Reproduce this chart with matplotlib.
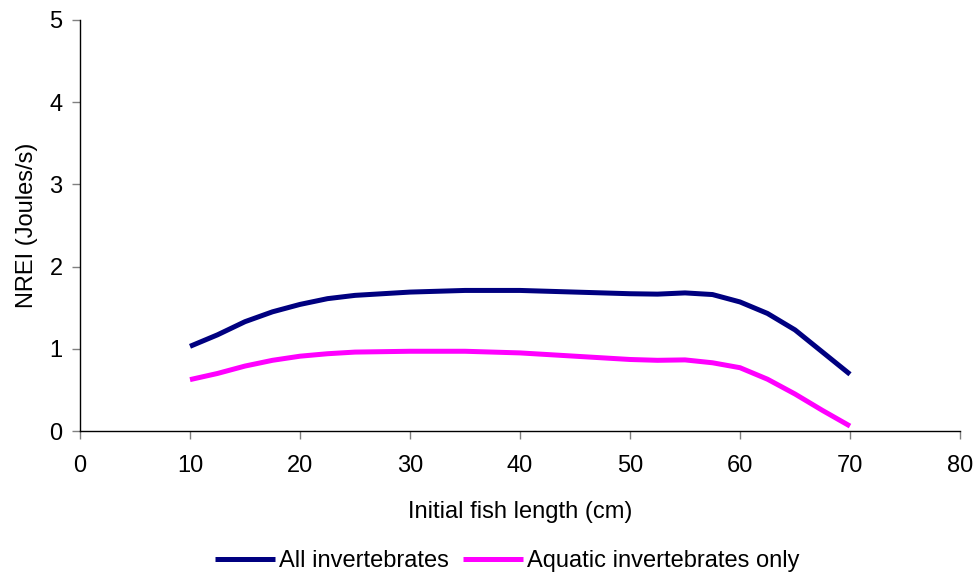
import matplotlib
matplotlib.use("Agg")
import matplotlib.pyplot as plt

# Data
length_cm = [10, 12.5, 15, 17.5, 20, 22.5, 25, 30, 35, 40, 45, 50, 52.5, 55, 57.5, 60, 62.5, 65, 67.5, 70]
all_invertebrates = [1.03, 1.17, 1.33, 1.45, 1.54, 1.61, 1.65, 1.69, 1.71, 1.71, 1.69, 1.67, 1.665, 1.68, 1.66, 1.57, 1.43, 1.23, 0.96, 0.69]
aquatic_only = [0.625, 0.70, 0.79, 0.86, 0.91, 0.94, 0.96, 0.97, 0.97, 0.95, 0.91, 0.87, 0.86, 0.865, 0.83, 0.77, 0.63, 0.45, 0.25, 0.06]

series_names = ["All invertebrates", "Aquatic invertebrates only"]
series_colors = ["#000080", "#FF00FF"]

plt.rcParams['font.family'] = ['Liberation Sans', 'DejaVu Sans']
FS = 17

W, H = 977, 575
fig = plt.figure(figsize=(W / 100, H / 100), dpi=100)
ax = fig.add_axes([80 / W, 1 - 431 / H, 880 / W, 411 / H])

for yvals, name, col in zip([all_invertebrates, aquatic_only], series_names, series_colors):
    ax.plot(length_cm, yvals, color=col, lw=3.6, label=name,
            solid_capstyle='butt', solid_joinstyle='round')

ax.set_xlim(0, 80)
ax.set_ylim(0, 5)
ax.set_xticks(range(0, 81, 10))
ax.set_yticks(range(0, 6))
for s in ['top', 'right']:
    ax.spines[s].set_visible(False)
for s in ['left', 'bottom']:
    ax.spines[s].set_color('black')
    ax.spines[s].set_linewidth(1)
ax.tick_params(axis='both', direction='out', length=5.5, width=1, color='#808080',
               labelsize=FS)
ax.tick_params(axis='x', pad=11.5)
ax.tick_params(axis='y', pad=7)
ax.set_xlabel("Initial fish length (cm)", fontsize=FS)
ax.set_ylabel("NREI (Joules/s)", fontsize=FS)
ax.xaxis.set_label_coords(0.5, (431 - 501) / 411)
ax.yaxis.set_label_coords((38 - 80) / 880, 0.5)

fig.legend(loc='center', bbox_to_anchor=(507.5 / W, 1 - 561 / H), ncol=2, frameon=False,
           fontsize=FS, handlelength=2.54, handletextpad=0.17, columnspacing=0.6,
           borderpad=0, borderaxespad=0)

fig.savefig("out.png", dpi=100)
